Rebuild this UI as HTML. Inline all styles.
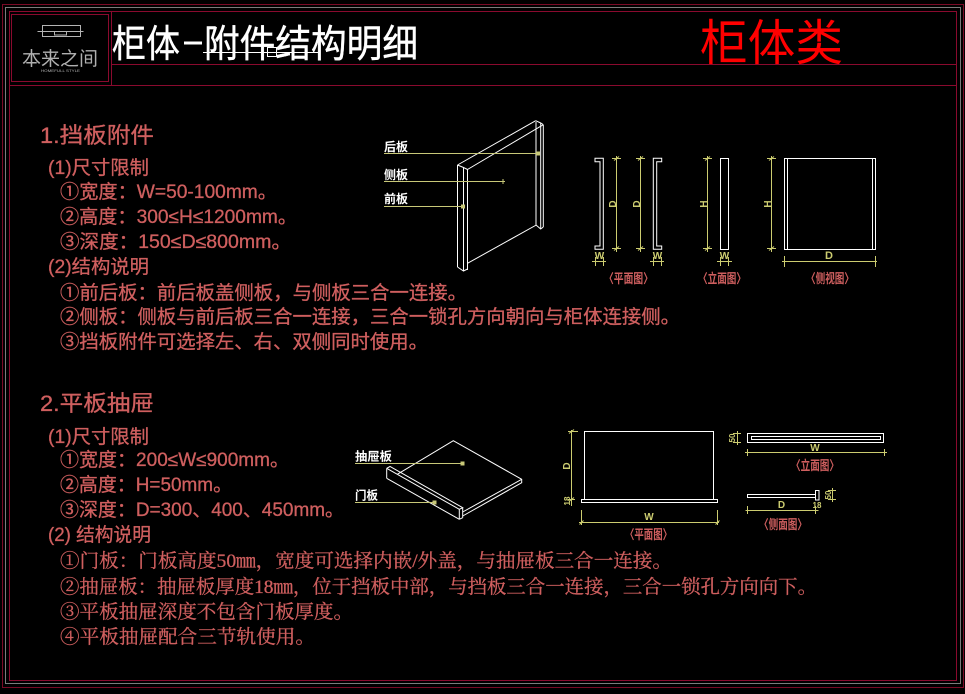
<!DOCTYPE html>
<html><head><meta charset="utf-8"><style>
html,body{margin:0;padding:0;background:#000;}
svg{display:block}
</style></head><body>
<svg width="965" height="694" viewBox="0 0 965 694" xmlns="http://www.w3.org/2000/svg">
<rect width="965" height="694" fill="#000"/>
<!-- frame -->
<g fill="none" stroke-width="1">
<rect x="2.5" y="4.5" width="961" height="683" stroke="#7a0a26"/>
<rect x="5.5" y="7.5" width="955" height="676" stroke="#7c7c7c"/>
<rect x="9.5" y="11.5" width="947" height="669" stroke="#8a0a2e"/>
<rect x="11.5" y="14.5" width="97" height="67" stroke="#8a0a2e"/>
<line x1="111.5" y1="11" x2="111.5" y2="85" stroke="#8a0a2e"/>
<line x1="111.5" y1="64.5" x2="956.5" y2="64.5" stroke="#8a0a2e"/>
<line x1="9.5" y1="85.5" x2="956.5" y2="85.5" stroke="#8a0a2e"/>
</g>
<!-- logo -->
<g fill="none" stroke="#b4b4b4" stroke-width="1">
<rect x="42.5" y="25.5" width="38" height="11"/>
<line x1="37.5" y1="31.5" x2="83.5" y2="31.5"/>
<rect x="54.5" y="31.5" width="12" height="3.5"/>
</g>
<text x="22" y="65" font-size="19" fill="#b0b0b0" textLength="76" lengthAdjust="spacingAndGlyphs" font-family="'Liberation Sans','Noto Sans CJK SC',sans-serif">本来之间</text>
<text x="41" y="72" font-size="4" fill="#b0b0b0" textLength="39" lengthAdjust="spacingAndGlyphs" font-family="'Liberation Sans',sans-serif">HOMEFULL STYLE</text>
<!-- titles -->
<g fill="#fff" font-family="'Liberation Sans','Noto Sans CJK SC',sans-serif" font-size="38" stroke="#fff" stroke-width="0.4">
<text x="112" y="57" textLength="68" lengthAdjust="spacingAndGlyphs">柜体</text>
<text x="204" y="57" textLength="214" lengthAdjust="spacingAndGlyphs">附件结构明细</text>
</g>
<rect x="184" y="41.5" width="18" height="3" fill="#fff"/>
<line x1="203" y1="52.5" x2="318" y2="52.5" stroke="#fff" stroke-width="1"/>
<rect x="267.5" y="47.5" width="9" height="9" fill="none" stroke="#fff" stroke-width="1"/>
<text x="700" y="60" font-size="49" fill="#ff0000" textLength="143" lengthAdjust="spacingAndGlyphs" font-family="'Liberation Sans','Noto Sans CJK SC',sans-serif">柜体类</text>

<!-- section 1 text -->
<g fill="#cf5f5f" stroke="#cf5f5f" stroke-width="0.3" font-family="'Liberation Sans','Noto Sans CJK SC',sans-serif" font-size="19">
<text x="40" y="143" font-size="22" textLength="114" lengthAdjust="spacingAndGlyphs">1.挡板附件</text>
<text x="48" y="174" textLength="101" lengthAdjust="spacingAndGlyphs">(1)尺寸限制</text>
<text x="60" y="198" textLength="217" lengthAdjust="spacingAndGlyphs">①宽度：W=50-100mm。</text>
<text x="60" y="223" textLength="237" lengthAdjust="spacingAndGlyphs">②高度：300≤H≤1200mm。</text>
<text x="60" y="248" textLength="231" lengthAdjust="spacingAndGlyphs">③深度：150≤D≤800mm。</text>
<text x="48" y="273" textLength="101" lengthAdjust="spacingAndGlyphs">(2)结构说明</text>
<text x="60" y="299" textLength="407" lengthAdjust="spacingAndGlyphs">①前后板：前后板盖侧板，与侧板三合一连接。</text>
<text x="60" y="323" textLength="620" lengthAdjust="spacingAndGlyphs">②侧板：侧板与前后板三合一连接，三合一锁孔方向朝向与柜体连接侧。</text>
<text x="60" y="348" textLength="368" lengthAdjust="spacingAndGlyphs">③挡板附件可选择左、右、双侧同时使用。</text>
<!-- section 2 -->
<text x="40" y="411" font-size="22" textLength="114" lengthAdjust="spacingAndGlyphs">2.平板抽屉</text>
<text x="48" y="443" textLength="101" lengthAdjust="spacingAndGlyphs">(1)尺寸限制</text>
<text x="60" y="466" textLength="229" lengthAdjust="spacingAndGlyphs">①宽度：200≤W≤900mm。</text>
<text x="60" y="491" textLength="172" lengthAdjust="spacingAndGlyphs">②高度：H=50mm。</text>
<text x="60" y="516" textLength="284" lengthAdjust="spacingAndGlyphs">③深度：D=300、400、450mm。</text>
<text x="48" y="541" textLength="103" lengthAdjust="spacingAndGlyphs">(2) 结构说明</text>
</g>
<g fill="#cf5f5f" stroke="#cf5f5f" stroke-width="0.3" font-family="'Liberation Serif','Noto Serif CJK SC',serif" font-size="19">
<text x="60" y="567" textLength="612" lengthAdjust="spacingAndGlyphs">①门板：门板高度50㎜，宽度可选择内嵌/外盖，与抽屉板三合一连接。</text>
<text x="60" y="593" textLength="757" lengthAdjust="spacingAndGlyphs">②抽屉板：抽屉板厚度18㎜，位于挡板中部，与挡板三合一连接，三合一锁孔方向向下。</text>
<text x="60" y="618" textLength="293" lengthAdjust="spacingAndGlyphs">③平板抽屉深度不包含门板厚度。</text>
<text x="60" y="643" textLength="255" lengthAdjust="spacingAndGlyphs">④平板抽屉配合三节轨使用。</text>
</g>

<!-- 3D panel -->
<g fill="none" stroke="#fff" stroke-width="1">
<line x1="457.5" y1="165" x2="457.5" y2="267"/>
<line x1="463.5" y1="167.5" x2="463.5" y2="271"/>
<line x1="467.5" y1="169.5" x2="467.5" y2="270"/>
<polyline points="457.5,165 463.5,167.5 467.5,169.5"/>
<polyline points="457.5,267 463.5,271 467.5,269"/>
<line x1="457.5" y1="165" x2="535.7" y2="120.7"/>
<line x1="467.5" y1="169.5" x2="543.3" y2="124.7"/>
<polyline points="535.7,120.7 540.7,123 543.3,124.7"/>
<line x1="536" y1="122" x2="536" y2="225"/>
<line x1="540.7" y1="123" x2="540.7" y2="229"/>
<line x1="543.3" y1="125" x2="543.3" y2="227"/>
<polyline points="536,225 540.7,229 543.3,227"/>
<line x1="467.5" y1="263.3" x2="536.3" y2="225"/>
</g>
<g stroke="#c8c878" stroke-width="1" fill="#c8c878">
<line x1="384" y1="153.5" x2="540" y2="153.5"/>
<rect x="536.5" y="152" width="3" height="3"/>
<line x1="384" y1="181.5" x2="505" y2="181.5"/>
<line x1="503" y1="179" x2="503" y2="184"/>
<line x1="384" y1="206.5" x2="463" y2="206.5"/>
<rect x="461.5" y="205" width="3" height="3"/>
</g>
<g fill="#fff" font-family="'Liberation Sans','Noto Sans CJK SC',sans-serif" font-size="12" font-weight="bold">
<text x="384" y="151" textLength="24" lengthAdjust="spacingAndGlyphs">后板</text>
<text x="384" y="179" textLength="24" lengthAdjust="spacingAndGlyphs">侧板</text>
<text x="384" y="203" textLength="24" lengthAdjust="spacingAndGlyphs">前板</text>
</g>

<!-- section 1 orthographic views -->
<g fill="none" stroke="#fff" stroke-width="1">
<polygon points="595,158.3 603.3,158.3 603.3,249.3 595,249.3 595,246 600,246 600,161.7 595,161.7"/>
<polygon points="653.3,158.3 661.7,158.3 661.7,161.7 656.7,161.7 656.7,246 661.7,246 661.7,249.3 653.3,249.3"/>
<rect x="720.5" y="158.5" width="8" height="91"/>
<rect x="784.5" y="158.5" width="91" height="91"/>
<line x1="787.5" y1="158.5" x2="787.5" y2="249.5"/>
<line x1="872.5" y1="158.5" x2="872.5" y2="249.5"/>
</g>
<g fill="none" stroke="#cccc70" stroke-width="1">
<line x1="616.5" y1="156" x2="616.5" y2="252"/>
<line x1="612" y1="158.5" x2="621" y2="158.5"/><line x1="614" y1="160.5" x2="619" y2="156.5"/>
<line x1="612" y1="248.5" x2="621" y2="248.5"/><line x1="614" y1="250.5" x2="619" y2="246.5"/>
<line x1="640.5" y1="156" x2="640.5" y2="252"/>
<line x1="636" y1="158.5" x2="645" y2="158.5"/><line x1="638" y1="160.5" x2="643" y2="156.5"/>
<line x1="636" y1="248.5" x2="645" y2="248.5"/><line x1="638" y1="250.5" x2="643" y2="246.5"/>
<line x1="707.5" y1="156" x2="707.5" y2="252"/>
<line x1="703" y1="158.5" x2="712" y2="158.5"/><line x1="705" y1="160.5" x2="710" y2="156.5"/>
<line x1="703" y1="248.5" x2="712" y2="248.5"/><line x1="705" y1="250.5" x2="710" y2="246.5"/>
<line x1="771.5" y1="156" x2="771.5" y2="252"/>
<line x1="767" y1="158.5" x2="776" y2="158.5"/><line x1="769" y1="160.5" x2="774" y2="156.5"/>
<line x1="767" y1="248.5" x2="776" y2="248.5"/><line x1="769" y1="250.5" x2="774" y2="246.5"/>
<line x1="592" y1="261.5" x2="606" y2="261.5"/>
<line x1="595.5" y1="257" x2="595.5" y2="266"/><line x1="603.5" y1="257" x2="603.5" y2="266"/>
<line x1="650" y1="261.5" x2="664" y2="261.5"/>
<line x1="653.5" y1="257" x2="653.5" y2="266"/><line x1="661.5" y1="257" x2="661.5" y2="266"/>
<line x1="717" y1="261.5" x2="732" y2="261.5"/>
<line x1="720.5" y1="257" x2="720.5" y2="266"/><line x1="728.5" y1="257" x2="728.5" y2="266"/>
<line x1="782" y1="261.5" x2="877" y2="261.5"/>
<line x1="784.5" y1="256" x2="784.5" y2="267"/><line x1="875.5" y1="256" x2="875.5" y2="267"/>
</g>
<g fill="#cccc70" font-family="'Liberation Sans',sans-serif" font-size="10" font-weight="bold" text-anchor="middle">
<text transform="translate(616,204) rotate(-90)">D</text>
<text transform="translate(640,204) rotate(-90)">D</text>
<text transform="translate(707,204) rotate(-90)">H</text>
<text transform="translate(771,204) rotate(-90)">H</text>
<text x="599.5" y="259">W</text>
<text x="657.5" y="259">W</text>
<text x="724.5" y="259">W</text>
<text x="829" y="259" font-size="11">D</text>
</g>
<g fill="#cf5f5f" font-family="'Liberation Sans','Noto Sans CJK SC',sans-serif" font-size="13" font-weight="bold">
<text x="604" y="283" textLength="49" lengthAdjust="spacingAndGlyphs">〈平面图〉</text>
<text x="698" y="283" textLength="48" lengthAdjust="spacingAndGlyphs">〈立面图〉</text>
<text x="806" y="283" textLength="48" lengthAdjust="spacingAndGlyphs">〈侧视图〉</text>
</g>

<!-- drawer 3D -->
<g fill="none" stroke="#fff" stroke-width="1">
<line x1="386.7" y1="468.3" x2="459.3" y2="509.3"/>
<line x1="386.7" y1="478.3" x2="459.3" y2="519.3"/>
<line x1="386.7" y1="468.3" x2="386.7" y2="478.3"/>
<line x1="459.3" y1="509.3" x2="459.3" y2="519.3"/>
<polyline points="386.7,468.3 390,466.5 462.7,507.7 459.3,509.3"/>
<line x1="462.7" y1="507.7" x2="462.7" y2="517.7"/>
<line x1="459.3" y1="519.3" x2="462.7" y2="517.7"/>
<polyline points="397.3,474.3 453.3,440.7 521.7,479.3 521.7,482.7 462.7,516"/>
<line x1="521.7" y1="479.3" x2="462.7" y2="512"/>
</g>
<g stroke="#c8c878" stroke-width="1" fill="#c8c878">
<line x1="355" y1="463.5" x2="463" y2="463.5"/>
<rect x="461" y="462" width="3" height="3"/>
<line x1="355" y1="502.5" x2="435" y2="502.5"/>
<rect x="433" y="501" width="3" height="3"/>
</g>
<g fill="#fff" font-family="'Liberation Sans','Noto Sans CJK SC',sans-serif" font-size="12" font-weight="bold">
<text x="355" y="460.5" textLength="37" lengthAdjust="spacingAndGlyphs">抽屉板</text>
<text x="355" y="499.5" textLength="23" lengthAdjust="spacingAndGlyphs">门板</text>
</g>

<!-- section 2 views -->
<g fill="none" stroke="#fff" stroke-width="1">
<rect x="584.5" y="431.5" width="129" height="68"/>
<rect x="581.5" y="499.5" width="136" height="3"/>
<rect x="747.5" y="433.5" width="136" height="9"/>
<rect x="751.5" y="436.5" width="129" height="3"/>
<rect x="747.5" y="494.5" width="68" height="3"/>
<rect x="815.5" y="490.5" width="3.5" height="9.5"/>
</g>
<g fill="none" stroke="#cccc70" stroke-width="1">
<line x1="571.5" y1="430" x2="571.5" y2="506"/>
<line x1="568" y1="431.5" x2="578" y2="431.5"/><line x1="569" y1="433.5" x2="574" y2="429.5"/>
<line x1="568" y1="499.5" x2="575" y2="499.5"/><line x1="569" y1="501.5" x2="574" y2="497.5"/>
<line x1="579" y1="522.5" x2="719" y2="522.5"/>
<line x1="581.5" y1="510" x2="581.5" y2="525"/><line x1="717.5" y1="510" x2="717.5" y2="525"/>
<line x1="579.5" y1="524.5" x2="583.5" y2="520.5"/><line x1="715.5" y1="524.5" x2="719.5" y2="520.5"/>
<line x1="745" y1="452.5" x2="887" y2="452.5"/>
<line x1="747.5" y1="449" x2="747.5" y2="456"/><line x1="884.5" y1="449" x2="884.5" y2="456"/>
<line x1="737.5" y1="431" x2="737.5" y2="445"/>
<line x1="733" y1="433.5" x2="741" y2="433.5"/><line x1="733" y1="442.5" x2="741" y2="442.5"/>
<line x1="832.5" y1="488" x2="832.5" y2="502"/>
<line x1="828" y1="490.5" x2="836" y2="490.5"/><line x1="828" y1="499.5" x2="836" y2="499.5"/>
<line x1="745.5" y1="510.5" x2="818.5" y2="510.5"/>
<line x1="747.5" y1="506" x2="747.5" y2="514"/><line x1="815.5" y1="506" x2="815.5" y2="514"/>
</g>
<g fill="#cccc70" font-family="'Liberation Sans',sans-serif" font-size="10" font-weight="bold" text-anchor="middle">
<text transform="translate(570,466) rotate(-90)">D</text>
<text transform="translate(570,501) rotate(-90)" font-size="8">18</text>
<text x="649" y="520">W</text>
<text x="815" y="451">W</text>
<text transform="translate(735,438) rotate(-90)" font-size="8">50</text>
<text transform="translate(831,495) rotate(-90)" font-size="8">50</text>
<text x="781.5" y="508">D</text>
<text x="817" y="508" font-size="8">18</text>
</g>
<g fill="#cf5f5f" font-family="'Liberation Sans','Noto Sans CJK SC',sans-serif" font-size="13" font-weight="bold">
<text x="625" y="539" textLength="47" lengthAdjust="spacingAndGlyphs">〈平面图〉</text>
<text x="791" y="470" textLength="48" lengthAdjust="spacingAndGlyphs">〈立面图〉</text>
<text x="759" y="529" textLength="48" lengthAdjust="spacingAndGlyphs">〈侧面图〉</text>
</g>
</svg>
</body></html>
